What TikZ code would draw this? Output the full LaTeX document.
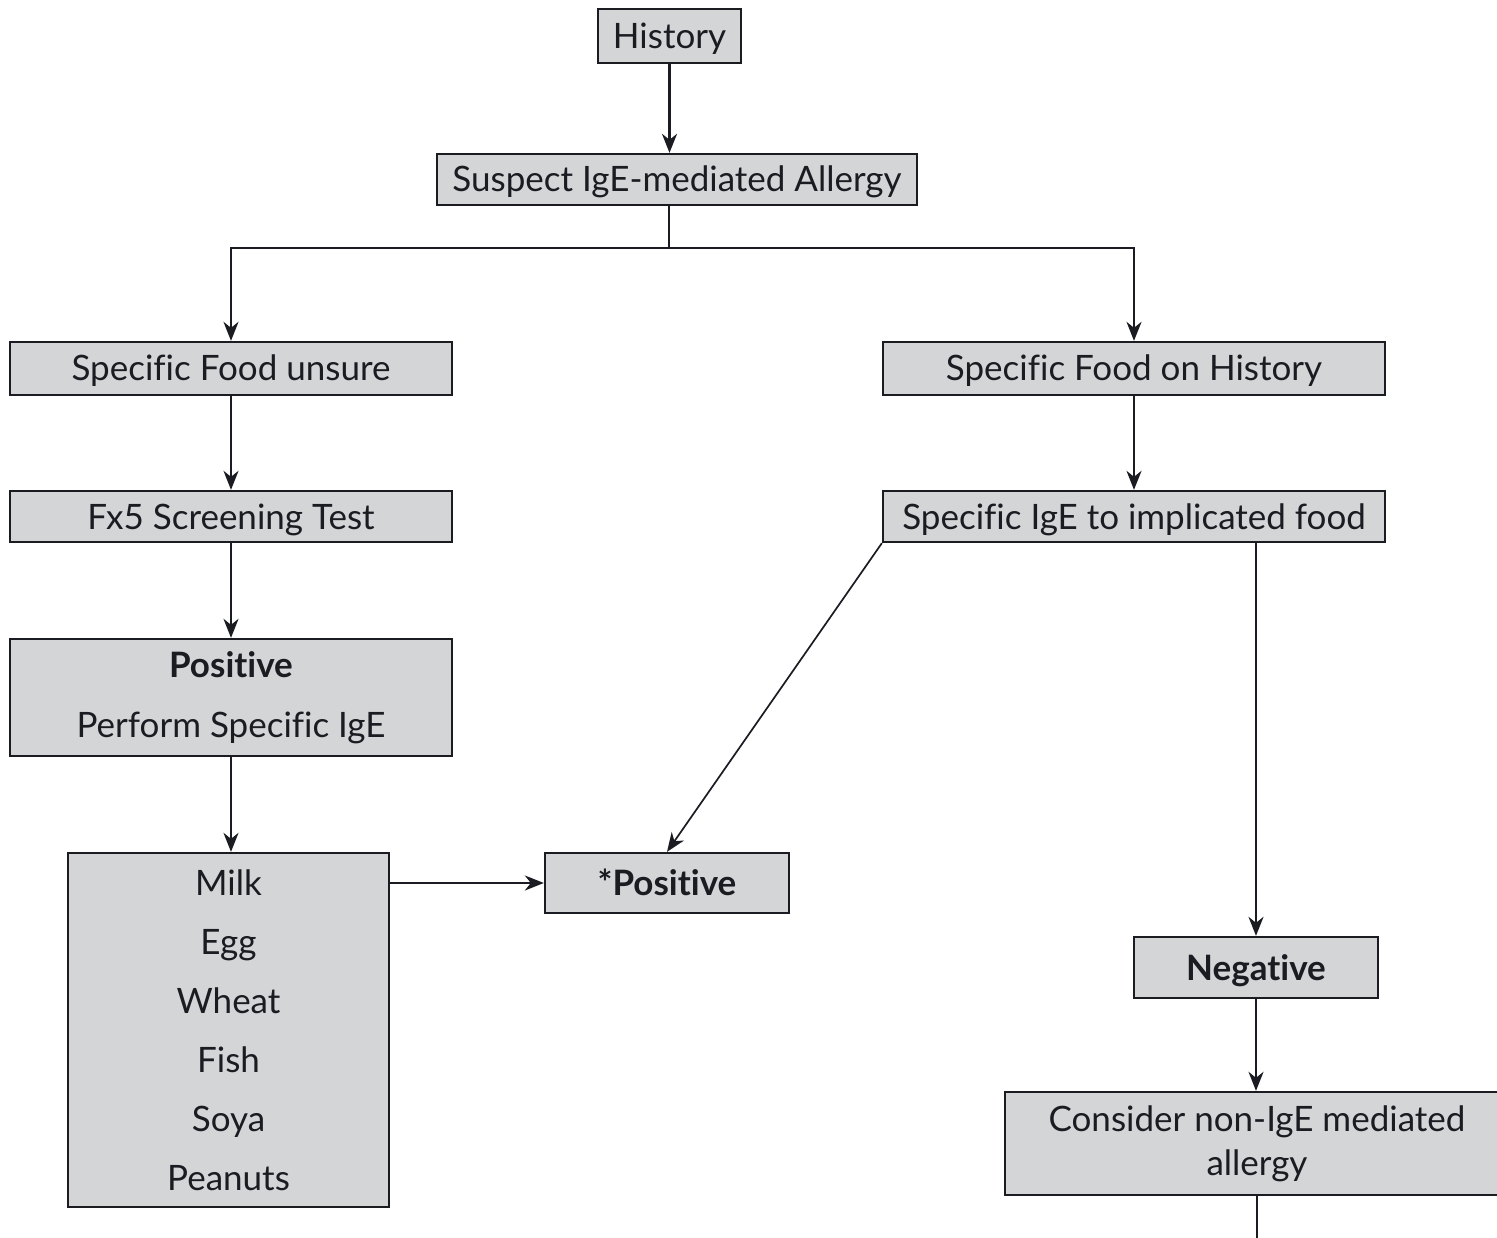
\documentclass[tikz,border=0pt]{standalone}
\usepackage{fontspec}
\setmainfont{Lato}[Ligatures=CommonOff]
\usetikzlibrary{arrows.meta}
\definecolor{boxfill}{HTML}{D3D5D7}
\definecolor{ink}{HTML}{1B1B22}
\begin{document}
\begin{tikzpicture}[x=1pt,y=-1pt,
  box/.style={draw=ink, fill=boxfill, line width=2.3pt, inner sep=0pt,
    text=ink, align=center, font=\fontsize{35}{40}\selectfont},
  oneline/.style={box, text height=25pt, text depth=0pt},
  link/.style={draw=ink, line width=2.3pt,
    -{Stealth[length=19pt,width=15pt,inset=6pt]}},
  plain/.style={draw=ink, line width=2.3pt},
]
\useasboundingbox (0,0) rectangle (1497,1238);

% top of the flow
\node[oneline, minimum width=143pt, minimum height=54pt] (hist) at (669.5,36) {History};
\node[oneline, minimum width=480pt, minimum height=51pt] (susp) at (677,179.5) {Suspect IgE-mediated Allergy};

% left branch
\node[oneline, minimum width=442pt, minimum height=53pt] (unsure) at (231,368.5) {Specific Food unsure};
\node[oneline, minimum width=442pt, minimum height=51pt] (fx5) at (231,516.5) {Fx5 Screening Test};
\node[box, minimum width=442pt, minimum height=117pt,
  font=\fontsize{35}{60}\selectfont] (perf) at (231,697.5) {\textbf{Positive}\\Perform Specific IgE};
\node[box, minimum width=321pt, minimum height=354pt,
  font=\fontsize{35}{59}\selectfont] (foods) at (228.5,1030) {Milk\\Egg\\Wheat\\Fish\\Soya\\Peanuts};
\node[oneline, minimum width=244pt, minimum height=60pt] (pos) at (667,883) {\textbf{*Positive}};

% right branch
\node[oneline, minimum width=502pt, minimum height=53pt] (onhist) at (1134,368.5) {Specific Food on History};
\node[oneline, minimum width=502pt, minimum height=51pt] (spige) at (1134,516.5) {Specific IgE to implicated food};
\node[oneline, minimum width=244pt, minimum height=61pt] (neg) at (1256,967.5) {\textbf{Negative}};
\node[box, minimum width=504pt, minimum height=103pt,
  font=\fontsize{35}{44}\selectfont] (nonige) at (1257,1143.5) {Consider non-IgE mediated\\allergy};

% connectors
\coordinate (split) at (669,248);
\coordinate (tail) at (1257,1250);
\draw[link] (hist) -- (susp.north -| hist.south);
\draw[plain] (susp.south -| split) -- (split);
\draw[link] (split) -| (unsure.north);
\draw[link] (split) -| (onhist.north);
\draw[link] (unsure) -- (fx5);
\draw[link] (fx5) -- (perf);
\draw[link] (perf) -- (foods.north -| perf.south);
\draw[link] (foods.east |- pos) -- (pos);
\draw[link] (onhist) -- (spige);
\draw[link, line width=1.7pt] (spige.south west) -- (pos.north);
\draw[link] (spige.south -| neg.north) -- (neg);
\draw[link] (neg) -- (nonige.north -| neg.south);
\draw[plain] (nonige.south) -- (tail);
\end{tikzpicture}
\end{document}
